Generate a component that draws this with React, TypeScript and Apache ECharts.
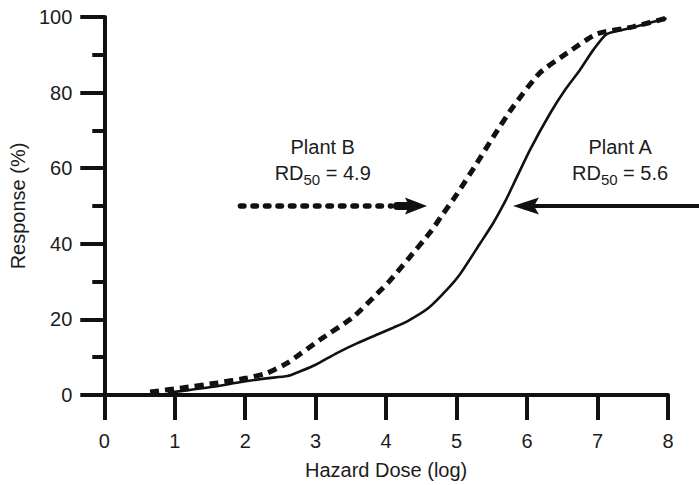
import React, { useEffect, useRef } from "react";
import * as echarts from "echarts";

// Plant A (solid curve)
const plantAX = [0.9, 1.2, 1.6, 1.9, 2.3, 2.6, 2.8, 3.0, 3.3, 3.6, 3.9, 4.1, 4.3, 4.6, 4.87, 5.05, 5.33, 5.52, 5.7, 5.8, 6.04, 6.33, 6.55, 6.75, 6.94, 7.13, 7.5, 7.98];
const plantAY = [0.6, 1.3, 2.3, 3.3, 4.4, 5.0, 6.4, 8.0, 11.1, 13.8, 16.2, 17.8, 19.5, 23.0, 28.0, 32.0, 40.0, 45.5, 51.6, 55.5, 64.8, 74.6, 81.0, 86.0, 91.3, 95.5, 97.2, 99.7];

// Plant B (dashed curve)
const plantBX = [0.65, 1.12, 1.6, 2.03, 2.31, 2.6, 3.06, 3.53, 3.91, 4.06, 4.3, 4.62, 4.81, 5.0, 5.29, 5.52, 5.8, 6.18, 6.57, 6.99, 7.5, 7.98];
const plantBY = [0.8, 1.9, 3.2, 4.5, 5.8, 8.5, 14.6, 20.6, 27.5, 30.4, 35.7, 42.9, 48.0, 53.0, 61.4, 68.3, 76.2, 85.2, 90.5, 95.5, 97.4, 99.7];

// Axes
const xMin = 0, xMax = 8, xInterval = 1;
const yMin = 0, yMax = 100, yInterval = 20;

// Annotations (data coordinates)
const arrowLevel = 50;
const arrowBStart = 1.89;
const arrowBTip = 4.58;
const arrowATip = 5.8;
const labelBX = 3.1;
const labelAX = 7.32;
const labelLine1Y = 65.6;
const labelLine2Y = 58.7;
const labelBTitle = "Plant B";
const labelATitle = "Plant A";
const rdB = "4.9";
const rdA = "5.6";

const FONT = "'Liberation Sans', Arial, Helvetica, sans-serif";
const INK = "#111";
const TXT = "#1c1c1c";

export default function App() {
  const ref = useRef<HTMLDivElement>(null);
  useEffect(() => {
    const chart = echarts.init(ref.current!, null, { renderer: "svg" });
    const pairs = (xs: number[], ys: number[]) => xs.map((x, i) => [x, ys[i]]);
    chart.setOption({
      animation: false,
      grid: { left: 104, right: 31, top: 17, bottom: 90, containLabel: false },
      xAxis: {
        type: "value",
        min: xMin,
        max: xMax,
        interval: xInterval,
        name: "Hazard Dose (log)",
        nameLocation: "middle",
        nameGap: 65,
        nameTextStyle: { fontSize: 20, color: TXT, fontFamily: FONT },
        axisLine: { lineStyle: { color: INK, width: 4, cap: "round" } },
        axisTick: { show: true, length: 25, lineStyle: { color: INK, width: 4 } },
        axisLabel: { fontSize: 20, color: TXT, fontFamily: FONT, margin: 36 },
        splitLine: { show: false },
      },
      yAxis: {
        type: "value",
        min: yMin,
        max: yMax,
        interval: yInterval,
        name: "Response (%)",
        nameLocation: "middle",
        nameGap: 72,
        nameTextStyle: { fontSize: 20, color: TXT, fontFamily: FONT },
        axisLine: { lineStyle: { color: INK, width: 4 } },
        axisTick: { show: true, length: 24, lineStyle: { color: INK, width: 4 } },
        minorTick: { show: true, splitNumber: 2, length: 12, lineStyle: { color: INK, width: 4 } },
        axisLabel: { fontSize: 20, color: TXT, fontFamily: FONT, margin: 32 },
        splitLine: { show: false },
      },
      series: [
        {
          name: "Plant A",
          type: "line",
          data: pairs(plantAX, plantAY),
          smooth: 0.2,
          showSymbol: false,
          symbol: "none",
          lineStyle: { color: INK, width: 2.6 },
          z: 3,
        },
        {
          name: "Plant B",
          type: "line",
          data: pairs(plantBX, plantBY),
          smooth: 0.2,
          showSymbol: false,
          symbol: "none",
          lineStyle: { color: INK, width: 5, type: [9, 6] },
          z: 3,
        },
      ],
    });

    const px = (x: number, y: number) =>
      chart.convertToPixel({ gridIndex: 0 }, [x, y]) as number[];
    const W = chart.getWidth();
    const [sB, yL] = px(arrowBStart, arrowLevel);
    const [tB] = px(arrowBTip, arrowLevel);
    const [tA] = px(arrowATip, arrowLevel);
    const [lbx, ly1] = px(labelBX, labelLine1Y);
    const [lax, ly2] = px(labelAX, labelLine2Y);

    const rich = {
      r: { fontSize: 20, fontFamily: FONT, fill: TXT, color: TXT, lineHeight: 20, verticalAlign: "top" },
      s: { fontSize: 15, fontFamily: FONT, fill: TXT, color: TXT, lineHeight: 15, verticalAlign: "top", padding: [9, 0, 0, 0] },
    };
    const title = (x: number, t: string) => ({
      type: "text",
      x,
      y: ly1,
      style: { text: t, fontSize: 20, fontFamily: FONT, fill: TXT, align: "center", verticalAlign: "middle" },
    });
    const rd = (x: number, v: string) => ({
      type: "text",
      x,
      y: ly2,
      style: {
        text: `{r|RD}{s|50}{r| = ${v}}`,
        rich,
        align: "center",
        verticalAlign: "middle",
        fill: TXT,
      },
    });

    chart.setOption({
      graphic: [
        title(lbx, labelBTitle),
        rd(lbx, rdB),
        title(lax, labelATitle),
        rd(lax, rdA),
        // Plant B arrow
        {
          type: "line",
          shape: { x1: sB + 3, y1: yL, x2: tB - 36, y2: yL },
          style: { stroke: INK, lineWidth: 5.5, lineDash: [3.5, 9], lineCap: "round" },
        },
        {
          type: "line",
          shape: { x1: tB - 30, y1: yL, x2: tB - 17, y2: yL },
          style: { stroke: INK, lineWidth: 8, lineCap: "round" },
        },
        {
          type: "polygon",
          shape: { points: [[tB, yL], [tB - 22, yL - 8.5], [tB - 18, yL], [tB - 22, yL + 8.5]] },
          style: { fill: INK },
        },
        // Plant A arrow
        {
          type: "polygon",
          shape: { points: [[tA, yL], [tA + 26, yL - 8.5], [tA + 21, yL], [tA + 26, yL + 8.5]] },
          style: { fill: INK },
        },
        {
          type: "line",
          shape: { x1: tA + 20, y1: yL, x2: W, y2: yL },
          style: { stroke: INK, lineWidth: 4 },
        },
      ],
    });
    return () => chart.dispose();
  }, []);
  return (
    <div
      ref={ref}
      style={{ position: "fixed", left: 0, top: 0, width: 699, height: 485, background: "#fff" }}
    />
  );
}
